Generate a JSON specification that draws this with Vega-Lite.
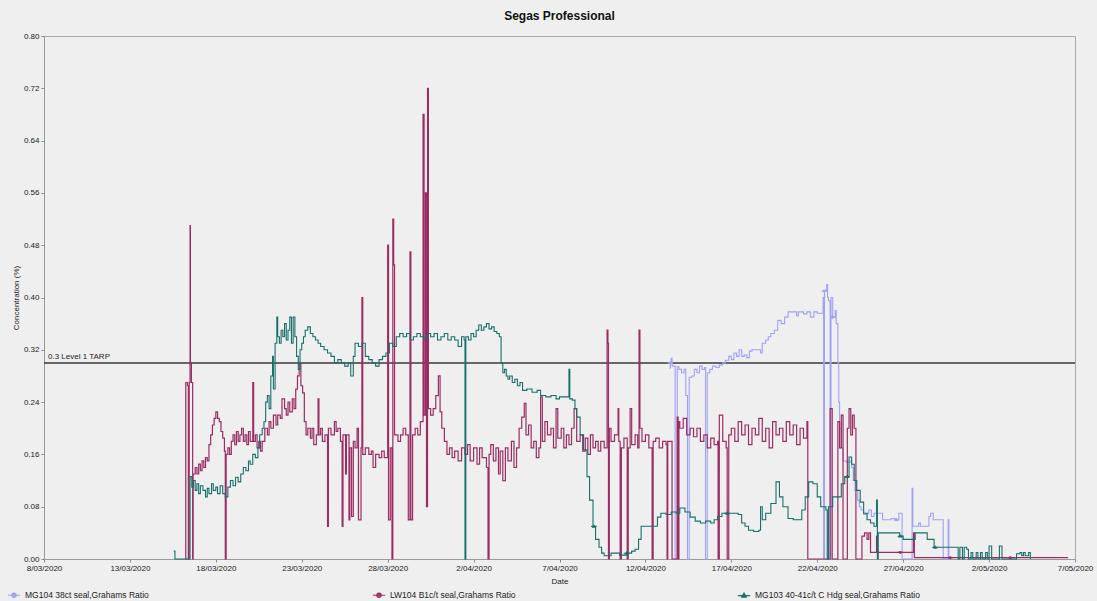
{
 "$schema": "https://vega.github.io/schema/vega-lite/v6.json",
 "width": 1031,
 "height": 523,
 "autosize": {"type": "none"},
 "padding": {"left": 44, "top": 36, "right": 22, "bottom": 42},
 "background": "#efefef",
 "config": {"font": "Liberation Sans", "view": {"stroke": "#a8a8a8", "strokeWidth": 1}},
 "title": {"text": "Segas Professional", "fontSize": 12, "fontWeight": "bold", "color": "#111", "offset": 9, "anchor": "middle", "font": "Liberation Sans"},
 "datasets": {
  "mg103": [
{"date":"2020-03-15T13:12","value":0.012},{"date":"2020-03-15T14:53","value":0},{"date":"2020-03-16T12:00","value":0.126},{"date":"2020-03-16T14:24","value":0.11},{"date":"2020-03-16T16:48","value":0.12},{"date":"2020-03-16T19:12","value":0.105},{"date":"2020-03-16T21:36","value":0.115},{"date":"2020-03-17T00:00","value":0.1},{"date":"2020-03-17T02:24","value":0.112},{"date":"2020-03-17T06:00","value":0.105},{"date":"2020-03-17T09:36","value":0.095},{"date":"2020-03-17T12:00","value":0.108},{"date":"2020-03-17T14:24","value":0.1},{"date":"2020-03-17T18:00","value":0.115},{"date":"2020-03-17T20:24","value":0.105},{"date":"2020-03-18T00:00","value":0.11},{"date":"2020-03-18T02:24","value":0.1},{"date":"2020-03-18T06:00","value":0.112},{"date":"2020-03-18T09:36","value":0.1},{"date":"2020-03-18T13:12","value":0.095},{"date":"2020-03-18T16:48","value":0.11},{"date":"2020-03-18T20:24","value":0.12},{"date":"2020-03-19T00:00","value":0.112},{"date":"2020-03-19T03:36","value":0.125},{"date":"2020-03-19T07:12","value":0.118},{"date":"2020-03-19T10:48","value":0.13},{"date":"2020-03-19T14:24","value":0.14},{"date":"2020-03-19T18:00","value":0.135},{"date":"2020-03-19T21:36","value":0.15},{"date":"2020-03-20T00:00","value":0.145},{"date":"2020-03-20T03:36","value":0.16},{"date":"2020-03-20T07:12","value":0.155},{"date":"2020-03-20T10:48","value":0.17},{"date":"2020-03-20T13:12","value":0.19},{"date":"2020-03-20T16:48","value":0.2},{"date":"2020-03-20T19:12","value":0.21},{"date":"2020-03-20T21:36","value":0.24},{"date":"2020-03-21T00:00","value":0.25},{"date":"2020-03-21T02:24","value":0.23},{"date":"2020-03-21T04:48","value":0.28},{"date":"2020-03-21T07:12","value":0.31},{"date":"2020-03-21T08:24","value":0.26},{"date":"2020-03-21T10:48","value":0.33},{"date":"2020-03-21T13:12","value":0.37},{"date":"2020-03-21T14:24","value":0.34},{"date":"2020-03-21T16:48","value":0.33},{"date":"2020-03-21T19:12","value":0.35},{"date":"2020-03-21T21:36","value":0.34},{"date":"2020-03-22T00:00","value":0.36},{"date":"2020-03-22T02:24","value":0.335},{"date":"2020-03-22T04:48","value":0.35},{"date":"2020-03-22T07:12","value":0.37},{"date":"2020-03-22T09:36","value":0.33},{"date":"2020-03-22T12:00","value":0.37},{"date":"2020-03-22T14:24","value":0.34},{"date":"2020-03-22T16:48","value":0.31},{"date":"2020-03-22T19:12","value":0.29},{"date":"2020-03-22T21:36","value":0.32},{"date":"2020-03-23T00:00","value":0.33},{"date":"2020-03-23T02:24","value":0.34},{"date":"2020-03-23T04:48","value":0.35},{"date":"2020-03-23T08:24","value":0.355},{"date":"2020-03-23T12:00","value":0.345},{"date":"2020-03-23T15:36","value":0.34},{"date":"2020-03-23T19:12","value":0.335},{"date":"2020-03-23T22:48","value":0.33},{"date":"2020-03-24T02:24","value":0.325},{"date":"2020-03-24T07:12","value":0.32},{"date":"2020-03-24T12:00","value":0.315},{"date":"2020-03-24T16:48","value":0.31},{"date":"2020-03-24T21:36","value":0.3},{"date":"2020-03-25T02:24","value":0.305},{"date":"2020-03-25T07:12","value":0.3},{"date":"2020-03-25T12:00","value":0.295},{"date":"2020-03-25T16:48","value":0.3},{"date":"2020-03-25T20:24","value":0.28},{"date":"2020-03-26T00:00","value":0.31},{"date":"2020-03-26T02:24","value":0.33},{"date":"2020-03-26T07:12","value":0.325},{"date":"2020-03-26T12:00","value":0.33},{"date":"2020-03-26T16:48","value":0.31},{"date":"2020-03-26T21:36","value":0.305},{"date":"2020-03-27T02:24","value":0.3},{"date":"2020-03-27T07:12","value":0.295},{"date":"2020-03-27T12:00","value":0.305},{"date":"2020-03-27T16:48","value":0.31},{"date":"2020-03-27T21:36","value":0.315},{"date":"2020-03-28T02:24","value":0.33},{"date":"2020-03-28T07:12","value":0.325},{"date":"2020-03-28T12:00","value":0.34},{"date":"2020-03-28T16:48","value":0.345},{"date":"2020-03-28T21:36","value":0.34},{"date":"2020-03-29T02:24","value":0.345},{"date":"2020-03-29T07:12","value":0.335},{"date":"2020-03-29T12:00","value":0.34},{"date":"2020-03-29T16:48","value":0.345},{"date":"2020-03-29T21:36","value":0.34},{"date":"2020-03-30T02:24","value":0.335},{"date":"2020-03-30T07:12","value":0.345},{"date":"2020-03-30T12:00","value":0.34},{"date":"2020-03-30T16:48","value":0.345},{"date":"2020-03-30T21:36","value":0.335},{"date":"2020-03-31T02:24","value":0.34},{"date":"2020-03-31T07:12","value":0.345},{"date":"2020-03-31T12:00","value":0.335},{"date":"2020-03-31T16:48","value":0.34},{"date":"2020-03-31T21:36","value":0.335},{"date":"2020-04-01T02:24","value":0.325},{"date":"2020-04-01T07:12","value":0.34},{"date":"2020-04-01T10:48","value":0.335},{"date":"2020-04-01T12:00","value":0},{"date":"2020-04-01T13:12","value":0.34},{"date":"2020-04-01T16:48","value":0.335},{"date":"2020-04-01T20:24","value":0.345},{"date":"2020-04-02T00:00","value":0.34},{"date":"2020-04-02T03:36","value":0.35},{"date":"2020-04-02T07:12","value":0.358},{"date":"2020-04-02T10:48","value":0.35},{"date":"2020-04-02T14:24","value":0.355},{"date":"2020-04-02T18:00","value":0.36},{"date":"2020-04-02T21:36","value":0.352},{"date":"2020-04-03T01:12","value":0.355},{"date":"2020-04-03T04:48","value":0.348},{"date":"2020-04-03T08:24","value":0.345},{"date":"2020-04-03T12:00","value":0.34},{"date":"2020-04-03T14:24","value":0.3},{"date":"2020-04-03T16:48","value":0.285},{"date":"2020-04-03T19:12","value":0.29},{"date":"2020-04-03T21:36","value":0.28},{"date":"2020-04-04T00:00","value":0.275},{"date":"2020-04-04T02:24","value":0.28},{"date":"2020-04-04T06:00","value":0.27},{"date":"2020-04-04T09:36","value":0.275},{"date":"2020-04-04T13:12","value":0.265},{"date":"2020-04-04T16:48","value":0.27},{"date":"2020-04-04T20:24","value":0.258},{"date":"2020-04-05T02:24","value":0.26},{"date":"2020-04-05T09:36","value":0.255},{"date":"2020-04-05T16:48","value":0.258},{"date":"2020-04-05T21:36","value":0.25},{"date":"2020-04-06T04:48","value":0.248},{"date":"2020-04-06T12:00","value":0.25},{"date":"2020-04-06T19:12","value":0.245},{"date":"2020-04-07T00:00","value":0.248},{"date":"2020-04-07T12:00","value":0.248},{"date":"2020-04-07T13:12","value":0.29},{"date":"2020-04-07T14:24","value":0.245},{"date":"2020-04-07T18:00","value":0.243},{"date":"2020-04-07T21:36","value":0.23},{"date":"2020-04-08T00:00","value":0.217},{"date":"2020-04-08T04:48","value":0.19},{"date":"2020-04-08T09:36","value":0.167},{"date":"2020-04-08T14:24","value":0.126},{"date":"2020-04-08T18:00","value":0.09},{"date":"2020-04-08T22:48","value":0.05},{"date":"2020-04-09T02:24","value":0.03},{"date":"2020-04-09T07:12","value":0.018},{"date":"2020-04-09T10:48","value":0.009},{"date":"2020-04-09T14:24","value":0.005},{"date":"2020-04-10T00:00","value":0.009},{"date":"2020-04-10T12:00","value":0.006},{"date":"2020-04-11T00:00","value":0.009},{"date":"2020-04-11T04:48","value":0.012},{"date":"2020-04-11T09:36","value":0.015},{"date":"2020-04-11T14:24","value":0.03},{"date":"2020-04-11T18:00","value":0.05},{"date":"2020-04-12T16:48","value":0.064},{"date":"2020-04-12T21:36","value":0.07},{"date":"2020-04-13T04:48","value":0.068},{"date":"2020-04-13T12:00","value":0.072},{"date":"2020-04-13T19:12","value":0.07},{"date":"2020-04-14T00:00","value":0.078},{"date":"2020-04-14T07:12","value":0.072},{"date":"2020-04-14T14:24","value":0.064},{"date":"2020-04-14T21:36","value":0.058},{"date":"2020-04-15T04:48","value":0.055},{"date":"2020-04-15T12:00","value":0.058},{"date":"2020-04-15T19:12","value":0.055},{"date":"2020-04-16T00:00","value":0.06},{"date":"2020-04-16T04:48","value":0.065},{"date":"2020-04-16T10:48","value":0.07},{"date":"2020-04-17T09:36","value":0.068},{"date":"2020-04-17T14:24","value":0.055},{"date":"2020-04-17T19:12","value":0.05},{"date":"2020-04-18T00:00","value":0.044},{"date":"2020-04-18T07:12","value":0.042},{"date":"2020-04-18T14:24","value":0.044},{"date":"2020-04-18T16:48","value":0.08},{"date":"2020-04-18T19:12","value":0.06},{"date":"2020-04-19T00:00","value":0.07},{"date":"2020-04-19T07:12","value":0.085},{"date":"2020-04-19T14:24","value":0.118},{"date":"2020-04-19T19:12","value":0.095},{"date":"2020-04-20T00:00","value":0.08},{"date":"2020-04-20T07:12","value":0.062},{"date":"2020-04-20T14:24","value":0.06},{"date":"2020-04-21T02:24","value":0.075},{"date":"2020-04-21T07:12","value":0.095},{"date":"2020-04-21T12:00","value":0.118},{"date":"2020-04-21T18:00","value":0.115},{"date":"2020-04-22T00:00","value":0.095},{"date":"2020-04-22T04:48","value":0.08},{"date":"2020-04-22T12:00","value":0.075},{"date":"2020-04-22T13:55","value":0},{"date":"2020-04-22T15:36","value":0.08},{"date":"2020-04-22T21:36","value":0.095},{"date":"2020-04-23T09:36","value":0.115},{"date":"2020-04-23T14:24","value":0.126},{"date":"2020-04-23T20:24","value":0.156},{"date":"2020-04-24T00:00","value":0.145},{"date":"2020-04-24T03:36","value":0.12},{"date":"2020-04-24T07:12","value":0.105},{"date":"2020-04-24T12:00","value":0.087},{"date":"2020-04-24T16:48","value":0.07},{"date":"2020-04-24T21:36","value":0.06},{"date":"2020-04-25T02:24","value":0.055},{"date":"2020-04-25T07:12","value":0.05},{"date":"2020-04-25T10:48","value":0.09},{"date":"2020-04-25T12:00","value":0},{"date":"2020-04-25T13:12","value":0.04},{"date":"2020-04-26T19:12","value":0.035},{"date":"2020-04-27T00:00","value":0.03},{"date":"2020-04-27T16:48","value":0.04},{"date":"2020-04-28T09:36","value":0.03},{"date":"2020-04-28T19:12","value":0.018},{"date":"2020-04-30T04:48","value":0},{"date":"2020-04-30T07:12","value":0.018},{"date":"2020-04-30T10:48","value":0},{"date":"2020-04-30T13:12","value":0.018},{"date":"2020-04-30T16:48","value":0.015},{"date":"2020-04-30T19:12","value":0},{"date":"2020-04-30T22:48","value":0.01},{"date":"2020-05-01T01:12","value":0},{"date":"2020-05-01T06:00","value":0.01},{"date":"2020-05-01T08:24","value":0},{"date":"2020-05-01T12:00","value":0.01},{"date":"2020-05-01T14:24","value":0},{"date":"2020-05-01T19:12","value":0.01},{"date":"2020-05-01T21:36","value":0},{"date":"2020-05-02T00:00","value":0.02},{"date":"2020-05-02T03:36","value":0},{"date":"2020-05-02T14:24","value":0.02},{"date":"2020-05-02T18:00","value":0},{"date":"2020-05-03T14:24","value":0.008},{"date":"2020-05-03T19:12","value":0.01},{"date":"2020-05-03T21:36","value":0.005},{"date":"2020-05-04T00:00","value":0.01},{"date":"2020-05-04T02:24","value":0.005},{"date":"2020-05-04T07:12","value":0.01},{"date":"2020-05-04T09:36","value":0}
  ],
  "lw104": [
{"date":"2020-03-16T04:48","value":0},{"date":"2020-03-16T06:00","value":0.27},{"date":"2020-03-16T08:24","value":0.265},{"date":"2020-03-16T09:36","value":0},{"date":"2020-03-16T10:48","value":0.27},{"date":"2020-03-16T12:00","value":0.51},{"date":"2020-03-16T12:29","value":0.3},{"date":"2020-03-16T13:55","value":0.27},{"date":"2020-03-16T15:36","value":0},{"date":"2020-03-16T16:19","value":0.13},{"date":"2020-03-16T19:12","value":0.14},{"date":"2020-03-16T21:36","value":0.13},{"date":"2020-03-17T00:00","value":0.145},{"date":"2020-03-17T02:24","value":0.135},{"date":"2020-03-17T04:48","value":0.15},{"date":"2020-03-17T07:12","value":0.14},{"date":"2020-03-17T09:36","value":0.155},{"date":"2020-03-17T12:00","value":0.15},{"date":"2020-03-17T14:24","value":0.175},{"date":"2020-03-17T16:48","value":0.19},{"date":"2020-03-17T19:12","value":0.205},{"date":"2020-03-17T21:36","value":0.215},{"date":"2020-03-18T00:00","value":0.225},{"date":"2020-03-18T02:24","value":0.215},{"date":"2020-03-18T04:48","value":0.21},{"date":"2020-03-18T07:12","value":0.195},{"date":"2020-03-18T09:36","value":0.185},{"date":"2020-03-18T12:00","value":0.165},{"date":"2020-03-18T13:12","value":0},{"date":"2020-03-18T14:24","value":0.16},{"date":"2020-03-18T16:48","value":0.17},{"date":"2020-03-18T19:12","value":0.16},{"date":"2020-03-18T21:36","value":0.18},{"date":"2020-03-19T00:00","value":0.19},{"date":"2020-03-19T02:24","value":0.175},{"date":"2020-03-19T04:48","value":0.195},{"date":"2020-03-19T07:12","value":0.18},{"date":"2020-03-19T09:36","value":0.19},{"date":"2020-03-19T12:00","value":0.2},{"date":"2020-03-19T14:24","value":0.18},{"date":"2020-03-19T16:48","value":0.19},{"date":"2020-03-19T19:12","value":0.175},{"date":"2020-03-19T21:36","value":0.195},{"date":"2020-03-20T00:00","value":0.18},{"date":"2020-03-20T03:36","value":0.27},{"date":"2020-03-20T04:48","value":0.18},{"date":"2020-03-20T07:12","value":0.19},{"date":"2020-03-20T09:36","value":0.17},{"date":"2020-03-20T12:00","value":0.18},{"date":"2020-03-20T14:24","value":0.165},{"date":"2020-03-20T16:48","value":0.18},{"date":"2020-03-20T20:24","value":0.2},{"date":"2020-03-21T00:00","value":0.19},{"date":"2020-03-21T02:24","value":0.21},{"date":"2020-03-21T04:48","value":0.2},{"date":"2020-03-21T08:24","value":0.22},{"date":"2020-03-21T12:00","value":0.205},{"date":"2020-03-21T14:24","value":0.22},{"date":"2020-03-21T18:00","value":0.215},{"date":"2020-03-21T20:24","value":0.245},{"date":"2020-03-22T00:00","value":0.23},{"date":"2020-03-22T02:24","value":0.22},{"date":"2020-03-22T04:48","value":0.24},{"date":"2020-03-22T07:12","value":0.225},{"date":"2020-03-22T10:48","value":0.245},{"date":"2020-03-22T13:12","value":0.23},{"date":"2020-03-22T15:36","value":0.26},{"date":"2020-03-22T18:00","value":0.28},{"date":"2020-03-22T20:24","value":0.3},{"date":"2020-03-22T22:48","value":0.265},{"date":"2020-03-23T01:12","value":0.254},{"date":"2020-03-23T03:36","value":0.21},{"date":"2020-03-23T06:00","value":0.19},{"date":"2020-03-23T08:24","value":0.2},{"date":"2020-03-23T12:00","value":0.185},{"date":"2020-03-23T14:24","value":0.2},{"date":"2020-03-23T16:48","value":0.175},{"date":"2020-03-23T20:24","value":0.19},{"date":"2020-03-23T22:48","value":0.245},{"date":"2020-03-24T00:00","value":0.19},{"date":"2020-03-24T02:24","value":0.2},{"date":"2020-03-24T04:48","value":0.18},{"date":"2020-03-24T08:24","value":0.19},{"date":"2020-03-24T12:00","value":0.05},{"date":"2020-03-24T13:12","value":0.2},{"date":"2020-03-24T16:48","value":0.19},{"date":"2020-03-24T21:36","value":0.21},{"date":"2020-03-25T00:00","value":0.195},{"date":"2020-03-25T02:24","value":0.2},{"date":"2020-03-25T06:00","value":0.18},{"date":"2020-03-25T08:24","value":0.05},{"date":"2020-03-25T09:36","value":0.19},{"date":"2020-03-25T13:12","value":0.13},{"date":"2020-03-25T14:24","value":0.19},{"date":"2020-03-25T18:00","value":0.06},{"date":"2020-03-25T19:12","value":0.17},{"date":"2020-03-25T21:36","value":0.065},{"date":"2020-03-26T00:00","value":0.18},{"date":"2020-03-26T02:24","value":0.17},{"date":"2020-03-26T05:17","value":0.2},{"date":"2020-03-26T07:12","value":0.06},{"date":"2020-03-26T10:48","value":0.17},{"date":"2020-03-26T12:00","value":0.4},{"date":"2020-03-26T13:12","value":0.16},{"date":"2020-03-26T16:48","value":0.17},{"date":"2020-03-26T21:36","value":0.16},{"date":"2020-03-27T01:12","value":0.165},{"date":"2020-03-27T03:36","value":0.14},{"date":"2020-03-27T07:12","value":0.16},{"date":"2020-03-27T12:00","value":0.155},{"date":"2020-03-27T15:36","value":0.165},{"date":"2020-03-27T19:12","value":0.155},{"date":"2020-03-28T00:00","value":0.48},{"date":"2020-03-28T01:12","value":0.06},{"date":"2020-03-28T03:36","value":0.17},{"date":"2020-03-28T06:00","value":0},{"date":"2020-03-28T07:12","value":0.52},{"date":"2020-03-28T08:24","value":0.45},{"date":"2020-03-28T09:36","value":0.19},{"date":"2020-03-28T14:24","value":0.18},{"date":"2020-03-28T18:00","value":0.19},{"date":"2020-03-28T21:36","value":0.2},{"date":"2020-03-29T01:12","value":0.19},{"date":"2020-03-29T04:48","value":0.06},{"date":"2020-03-29T07:12","value":0.47},{"date":"2020-03-29T08:24","value":0.06},{"date":"2020-03-29T10:48","value":0.19},{"date":"2020-03-29T14:24","value":0.2},{"date":"2020-03-29T18:00","value":0.19},{"date":"2020-03-29T21:36","value":0.21},{"date":"2020-03-30T01:26","value":0.68},{"date":"2020-03-30T02:53","value":0.22},{"date":"2020-03-30T04:48","value":0.56},{"date":"2020-03-30T06:14","value":0.08},{"date":"2020-03-30T07:41","value":0.72},{"date":"2020-03-30T08:53","value":0.23},{"date":"2020-03-30T12:00","value":0.22},{"date":"2020-03-30T15:36","value":0.23},{"date":"2020-03-30T19:12","value":0.25},{"date":"2020-03-30T22:48","value":0.28},{"date":"2020-03-31T01:12","value":0.225},{"date":"2020-03-31T03:36","value":0.2},{"date":"2020-03-31T07:12","value":0.18},{"date":"2020-03-31T10:48","value":0.16},{"date":"2020-03-31T14:24","value":0.17},{"date":"2020-03-31T18:00","value":0.155},{"date":"2020-03-31T21:36","value":0.165},{"date":"2020-04-01T02:24","value":0.15},{"date":"2020-04-01T07:12","value":0.17},{"date":"2020-04-01T12:00","value":0.16},{"date":"2020-04-01T15:36","value":0.175},{"date":"2020-04-01T19:12","value":0.15},{"date":"2020-04-02T00:00","value":0.17},{"date":"2020-04-02T04:48","value":0.145},{"date":"2020-04-02T08:24","value":0.17},{"date":"2020-04-02T12:00","value":0.155},{"date":"2020-04-02T18:00","value":0.14},{"date":"2020-04-02T20:10","value":0},{"date":"2020-04-02T21:36","value":0.16},{"date":"2020-04-03T00:00","value":0.175},{"date":"2020-04-03T03:36","value":0.15},{"date":"2020-04-03T07:12","value":0.17},{"date":"2020-04-03T10:48","value":0.13},{"date":"2020-04-03T13:12","value":0.165},{"date":"2020-04-03T16:48","value":0.12},{"date":"2020-04-03T20:24","value":0.17},{"date":"2020-04-04T00:00","value":0.15},{"date":"2020-04-04T04:48","value":0.18},{"date":"2020-04-04T08:24","value":0.14},{"date":"2020-04-04T12:00","value":0.17},{"date":"2020-04-04T15:36","value":0.2},{"date":"2020-04-04T19:12","value":0.217},{"date":"2020-04-04T22:48","value":0.238},{"date":"2020-04-05T01:12","value":0.19},{"date":"2020-04-05T04:48","value":0.205},{"date":"2020-04-05T08:24","value":0.17},{"date":"2020-04-05T12:00","value":0.18},{"date":"2020-04-05T15:36","value":0.155},{"date":"2020-04-05T19:12","value":0.17},{"date":"2020-04-05T21:36","value":0.248},{"date":"2020-04-06T00:00","value":0.18},{"date":"2020-04-06T03:36","value":0.21},{"date":"2020-04-06T07:12","value":0.19},{"date":"2020-04-06T12:00","value":0.2},{"date":"2020-04-06T15:36","value":0.17},{"date":"2020-04-06T19:12","value":0.23},{"date":"2020-04-06T21:36","value":0.185},{"date":"2020-04-07T02:24","value":0.2},{"date":"2020-04-07T06:00","value":0.17},{"date":"2020-04-07T09:36","value":0.19},{"date":"2020-04-07T13:12","value":0.175},{"date":"2020-04-07T16:48","value":0.2},{"date":"2020-04-07T20:24","value":0.23},{"date":"2020-04-08T00:00","value":0.18},{"date":"2020-04-08T04:48","value":0.19},{"date":"2020-04-08T08:24","value":0.165},{"date":"2020-04-08T12:00","value":0.185},{"date":"2020-04-08T15:36","value":0.16},{"date":"2020-04-08T19:12","value":0.19},{"date":"2020-04-08T22:48","value":0.17},{"date":"2020-04-09T02:24","value":0.18},{"date":"2020-04-09T06:00","value":0.165},{"date":"2020-04-09T09:36","value":0.18},{"date":"2020-04-09T14:24","value":0.17},{"date":"2020-04-09T18:29","value":0.35},{"date":"2020-04-09T19:41","value":0.33},{"date":"2020-04-09T20:24","value":0},{"date":"2020-04-09T21:36","value":0.2},{"date":"2020-04-10T00:00","value":0.18},{"date":"2020-04-10T04:48","value":0.19},{"date":"2020-04-10T09:50","value":0.23},{"date":"2020-04-10T10:48","value":0.18},{"date":"2020-04-10T12:43","value":0},{"date":"2020-04-10T14:24","value":0.17},{"date":"2020-04-10T18:00","value":0.185},{"date":"2020-04-10T22:34","value":0},{"date":"2020-04-11T00:00","value":0.17},{"date":"2020-04-11T02:38","value":0.23},{"date":"2020-04-11T04:48","value":0.175},{"date":"2020-04-11T09:36","value":0.19},{"date":"2020-04-11T13:12","value":0.17},{"date":"2020-04-11T15:07","value":0.35},{"date":"2020-04-11T16:19","value":0.2},{"date":"2020-04-11T19:12","value":0.18},{"date":"2020-04-12T00:00","value":0.19},{"date":"2020-04-12T04:48","value":0.17},{"date":"2020-04-12T09:22","value":0},{"date":"2020-04-12T10:48","value":0.18},{"date":"2020-04-12T14:24","value":0.185},{"date":"2020-04-12T19:12","value":0.17},{"date":"2020-04-13T00:00","value":0.18},{"date":"2020-04-13T04:48","value":0.175},{"date":"2020-04-13T06:14","value":0},{"date":"2020-04-13T07:12","value":0.18},{"date":"2020-04-13T13:12","value":0},{"date":"2020-04-13T20:24","value":0.217},{"date":"2020-04-13T21:36","value":0},{"date":"2020-04-13T22:48","value":0.21},{"date":"2020-04-14T00:00","value":0.2},{"date":"2020-04-14T04:48","value":0.215},{"date":"2020-04-14T09:36","value":0.19},{"date":"2020-04-14T14:24","value":0.2},{"date":"2020-04-14T19:12","value":0.187},{"date":"2020-04-15T00:00","value":0.2},{"date":"2020-04-15T04:48","value":0.18},{"date":"2020-04-15T09:36","value":0.19},{"date":"2020-04-15T14:24","value":0.17},{"date":"2020-04-15T19:12","value":0.185},{"date":"2020-04-16T00:00","value":0.175},{"date":"2020-04-16T04:48","value":0.18},{"date":"2020-04-16T05:31","value":0},{"date":"2020-04-16T07:12","value":0.22},{"date":"2020-04-16T12:00","value":0.18},{"date":"2020-04-16T16:48","value":0.17},{"date":"2020-04-16T18:14","value":0},{"date":"2020-04-16T20:24","value":0.19},{"date":"2020-04-17T00:00","value":0.2},{"date":"2020-04-17T04:48","value":0.18},{"date":"2020-04-17T09:36","value":0.21},{"date":"2020-04-17T14:24","value":0.19},{"date":"2020-04-17T19:12","value":0.205},{"date":"2020-04-18T00:00","value":0.175},{"date":"2020-04-18T04:48","value":0.2},{"date":"2020-04-18T09:36","value":0.19},{"date":"2020-04-18T14:24","value":0.215},{"date":"2020-04-18T19:12","value":0.18},{"date":"2020-04-19T00:00","value":0.2},{"date":"2020-04-19T04:48","value":0.17},{"date":"2020-04-19T09:36","value":0.21},{"date":"2020-04-19T14:24","value":0.19},{"date":"2020-04-19T19:12","value":0.2},{"date":"2020-04-20T00:00","value":0.18},{"date":"2020-04-20T04:48","value":0.21},{"date":"2020-04-20T09:36","value":0.19},{"date":"2020-04-20T14:24","value":0.205},{"date":"2020-04-20T19:12","value":0.175},{"date":"2020-04-21T00:00","value":0.2},{"date":"2020-04-21T04:48","value":0.185},{"date":"2020-04-21T09:36","value":0.21},{"date":"2020-04-21T10:48","value":0},{"date":"2020-04-22T16:48","value":0},{"date":"2020-04-22T18:00","value":0.23},{"date":"2020-04-22T20:53","value":0},{"date":"2020-04-23T04:48","value":0.21},{"date":"2020-04-23T07:12","value":0.17},{"date":"2020-04-23T09:36","value":0.22},{"date":"2020-04-23T12:00","value":0},{"date":"2020-04-23T18:00","value":0.2},{"date":"2020-04-23T20:24","value":0.23},{"date":"2020-04-23T22:48","value":0.19},{"date":"2020-04-24T01:12","value":0.22},{"date":"2020-04-24T03:36","value":0.2},{"date":"2020-04-24T06:00","value":0},{"date":"2020-04-24T14:24","value":0.035},{"date":"2020-04-24T18:00","value":0.04},{"date":"2020-04-24T21:36","value":0.03},{"date":"2020-04-25T00:00","value":0.04},{"date":"2020-04-25T02:24","value":0.01},{"date":"2020-04-25T10:48","value":0.035},{"date":"2020-04-25T12:00","value":0.01},{"date":"2020-04-27T13:12","value":0.01},{"date":"2020-04-27T14:24","value":0.04},{"date":"2020-04-27T15:36","value":0.002},{"date":"2020-05-06T14:24","value":0.002}
  ],
  "mg104": [
{"date":"2020-04-13T09:36","value":0.292},{"date":"2020-04-13T10:48","value":0.3},{"date":"2020-04-13T12:00","value":0.307},{"date":"2020-04-13T13:12","value":0.295},{"date":"2020-04-13T17:31","value":0},{"date":"2020-04-13T20:24","value":0.294},{"date":"2020-04-13T22:48","value":0.29},{"date":"2020-04-14T02:24","value":0.285},{"date":"2020-04-14T06:00","value":0.29},{"date":"2020-04-14T08:24","value":0.25},{"date":"2020-04-14T10:48","value":0},{"date":"2020-04-14T13:12","value":0.278},{"date":"2020-04-14T16:48","value":0.28},{"date":"2020-04-14T20:24","value":0.29},{"date":"2020-04-15T00:00","value":0.285},{"date":"2020-04-15T03:36","value":0.295},{"date":"2020-04-15T07:12","value":0.29},{"date":"2020-04-15T10:48","value":0.293},{"date":"2020-04-15T12:00","value":0},{"date":"2020-04-15T14:24","value":0.285},{"date":"2020-04-15T18:00","value":0.29},{"date":"2020-04-15T21:36","value":0.295},{"date":"2020-04-16T02:24","value":0.293},{"date":"2020-04-16T07:12","value":0.297},{"date":"2020-04-16T12:00","value":0.3},{"date":"2020-04-16T15:36","value":0.304},{"date":"2020-04-16T20:24","value":0.31},{"date":"2020-04-17T00:00","value":0.305},{"date":"2020-04-17T03:36","value":0.315},{"date":"2020-04-17T07:12","value":0.31},{"date":"2020-04-17T10:48","value":0.32},{"date":"2020-04-17T14:24","value":0.31},{"date":"2020-04-17T18:00","value":0.312},{"date":"2020-04-17T21:36","value":0.308},{"date":"2020-04-18T01:12","value":0.318},{"date":"2020-04-18T04:48","value":0.32},{"date":"2020-04-18T16:48","value":0.315},{"date":"2020-04-18T19:12","value":0.33},{"date":"2020-04-19T00:00","value":0.335},{"date":"2020-04-19T03:36","value":0.34},{"date":"2020-04-19T07:12","value":0.345},{"date":"2020-04-19T12:00","value":0.35},{"date":"2020-04-19T16:48","value":0.365},{"date":"2020-04-19T21:36","value":0.36},{"date":"2020-04-20T02:24","value":0.37},{"date":"2020-04-20T07:12","value":0.378},{"date":"2020-04-20T19:12","value":0.372},{"date":"2020-04-20T21:36","value":0.378},{"date":"2020-04-21T04:48","value":0.375},{"date":"2020-04-21T09:36","value":0.378},{"date":"2020-04-21T14:24","value":0.37},{"date":"2020-04-21T19:12","value":0.378},{"date":"2020-04-22T00:00","value":0.376},{"date":"2020-04-22T08:10","value":0.4},{"date":"2020-04-22T08:53","value":0},{"date":"2020-04-22T10:05","value":0.41},{"date":"2020-04-22T13:12","value":0.42},{"date":"2020-04-22T14:24","value":0.4},{"date":"2020-04-22T15:36","value":0.395},{"date":"2020-04-22T18:00","value":0},{"date":"2020-04-22T19:12","value":0.4},{"date":"2020-04-22T21:36","value":0.37},{"date":"2020-04-23T01:12","value":0.38},{"date":"2020-04-23T02:24","value":0.36},{"date":"2020-04-23T04:48","value":0.3},{"date":"2020-04-23T06:00","value":0.24},{"date":"2020-04-23T07:12","value":0.2},{"date":"2020-04-23T09:36","value":0.17},{"date":"2020-04-23T12:00","value":0.15},{"date":"2020-04-23T16:48","value":0.148},{"date":"2020-04-23T21:36","value":0.15},{"date":"2020-04-24T00:00","value":0.14},{"date":"2020-04-24T02:24","value":0.12},{"date":"2020-04-24T04:48","value":0.105},{"date":"2020-04-24T08:24","value":0.09},{"date":"2020-04-24T10:48","value":0.08},{"date":"2020-04-24T13:12","value":0.075},{"date":"2020-04-24T16:48","value":0.068},{"date":"2020-04-24T21:36","value":0.07},{"date":"2020-04-25T00:00","value":0.075},{"date":"2020-04-25T03:36","value":0.065},{"date":"2020-04-25T07:12","value":0.07},{"date":"2020-04-25T19:12","value":0.06},{"date":"2020-04-26T07:12","value":0.062},{"date":"2020-04-26T14:24","value":0.06},{"date":"2020-04-26T18:00","value":0.07},{"date":"2020-04-26T22:34","value":0},{"date":"2020-04-27T12:29","value":0.108},{"date":"2020-04-27T13:26","value":0.05},{"date":"2020-04-27T21:36","value":0.055},{"date":"2020-04-28T00:00","value":0.05},{"date":"2020-04-28T12:00","value":0.065},{"date":"2020-04-28T14:24","value":0.07},{"date":"2020-04-28T18:00","value":0.06},{"date":"2020-04-29T07:55","value":0},{"date":"2020-04-29T14:53","value":0.06},{"date":"2020-04-29T15:50","value":0},{"date":"2020-04-29T17:46","value":0}
  ],
  "markers": [
{"series":"MG104 38ct seal,Grahams Ratio","date":"2020-04-13T10:48","value":0.3},
{"series":"MG104 38ct seal,Grahams Ratio","date":"2020-04-22T10:05","value":0.41},
{"series":"MG104 38ct seal,Grahams Ratio","date":"2020-04-22T21:36","value":0.37},
{"series":"MG104 38ct seal,Grahams Ratio","date":"2020-04-26T14:24","value":0.06},
{"series":"LW104 B1c/t seal,Grahams Ratio","date":"2020-04-26T19:55","value":0.01},
{"series":"LW104 B1c/t seal,Grahams Ratio","date":"2020-04-29T17:46","value":0.002},
{"series":"LW104 B1c/t seal,Grahams Ratio","date":"2020-05-03T05:31","value":0.002},
{"series":"MG103 40-41c/t C Hdg seal,Grahams Ratio","date":"2020-04-09T00:00","value":0.05},
{"series":"MG103 40-41c/t C Hdg seal,Grahams Ratio","date":"2020-04-10T21:36","value":0.009},
{"series":"MG103 40-41c/t C Hdg seal,Grahams Ratio","date":"2020-04-16T18:14","value":0.07},
{"series":"MG103 40-41c/t C Hdg seal,Grahams Ratio","date":"2020-04-23T17:46","value":0.126},
{"series":"MG103 40-41c/t C Hdg seal,Grahams Ratio","date":"2020-04-26T19:55","value":0.035},
{"series":"MG103 40-41c/t C Hdg seal,Grahams Ratio","date":"2020-04-28T20:38","value":0.018}
  ]
 },
 "layer": [
  {
   "data": {"values": [{"value": 0.3}]},
   "mark": {"type": "rule", "color": "#3a3a3a", "strokeWidth": 1.5},
   "encoding": {
    "y": {"field": "value", "type": "quantitative", "scale": {"domain": [0, 0.8], "nice": false, "zero": true},
     "axis": {"values": [0,0.04,0.08,0.12,0.16,0.2,0.24,0.28,0.32,0.36,0.4,0.44,0.48,0.52,0.56,0.6,0.64,0.68,0.72,0.76,0.8],
      "labelExpr": "round(datum.value*100) % 8 == 0 ? format(datum.value, '.2f') : ''",
      "labelFontSize": 8, "labelColor": "#222", "tickColor": "#8a8a8a", "tickSize": 3, "domainColor": "#9a9a9a",
      "labelPadding": 2, "grid": false, "title": "Concentration (%)", "titleFontSize": 8, "titleFontWeight": "normal", "titleColor": "#222", "titlePadding": 3}}
   }
  },
  {
   "data": {"values": [{"date": "2020-03-08T00:00", "value": 0.3, "label": "0.3 Level 1 TARP"}]},
   "mark": {"type": "text", "align": "left", "baseline": "bottom", "dx": 4, "dy": -2, "fontSize": 8, "color": "#222"},
   "encoding": {
    "x": {"field": "date", "type": "temporal"},
    "y": {"field": "value", "type": "quantitative"},
    "text": {"field": "label"}
   }
  },
  {
   "data": {"name": "mg104"},
   "mark": {"type": "line", "interpolate": "step-after", "strokeWidth": 1.1},
   "encoding": {
    "x": {"field": "date", "type": "temporal",
     "scale": {"domain": [{"year":2020,"month":3,"date":8},{"year":2020,"month":5,"date":7}], "nice": false},
     "axis": {"values": [{"year":2020,"month":3,"date":8},{"year":2020,"month":3,"date":13},{"year":2020,"month":3,"date":18},{"year":2020,"month":3,"date":23},{"year":2020,"month":3,"date":28},{"year":2020,"month":4,"date":2},{"year":2020,"month":4,"date":7},{"year":2020,"month":4,"date":12},{"year":2020,"month":4,"date":17},{"year":2020,"month":4,"date":22},{"year":2020,"month":4,"date":27},{"year":2020,"month":5,"date":2},{"year":2020,"month":5,"date":7}],
      "format": "%-d/%m/%Y", "labelFontSize": 8, "labelColor": "#222", "tickColor": "#8a8a8a", "tickSize": 3, "domainColor": "#9a9a9a",
      "labelPadding": 2, "labelFlush": false, "labelOverlap": false, "labelBound": false, "grid": false,
      "title": "Date", "titleFontSize": 8, "titleFontWeight": "normal", "titleColor": "#222", "titlePadding": 5}},
    "y": {"field": "value", "type": "quantitative"},
    "color": {"datum": "MG104 38ct seal,Grahams Ratio", "type": "nominal",
     "scale": {"domain": ["MG104 38ct seal,Grahams Ratio", "LW104 B1c/t seal,Grahams Ratio", "MG103 40-41c/t C Hdg seal,Grahams Ratio"], "range": ["#a0a0f8", "#9b2d64", "#17706a"]}}
   }
  },
  {
   "data": {"name": "lw104"},
   "mark": {"type": "line", "interpolate": "step-after", "strokeWidth": 1.2},
   "encoding": {
    "x": {"field": "date", "type": "temporal"},
    "y": {"field": "value", "type": "quantitative"},
    "color": {"datum": "LW104 B1c/t seal,Grahams Ratio", "type": "nominal"}
   }
  },
  {
   "data": {"name": "mg103"},
   "mark": {"type": "line", "interpolate": "step-after", "strokeWidth": 1.1},
   "encoding": {
    "x": {"field": "date", "type": "temporal"},
    "y": {"field": "value", "type": "quantitative"},
    "color": {"datum": "MG103 40-41c/t C Hdg seal,Grahams Ratio", "type": "nominal"}
   }
  },
  {
   "data": {"name": "markers"},
   "mark": {"type": "point", "filled": false, "size": 30, "strokeWidth": 1.2, "opacity": 1},
   "encoding": {
    "x": {"field": "date", "type": "temporal"},
    "y": {"field": "value", "type": "quantitative"},
    "color": {"field": "series", "type": "nominal",
     "legend": {"orient": "none", "legendX": -37, "legendY": 552, "direction": "horizontal", "columns": 3, "gridAlign": "all", "columnPadding": 180, "title": null, "labelFontSize": 8.5, "labelColor": "#222", "symbolSize": 150, "symbolStrokeWidth": 1.2, "padding": 0, "labelOffset": 4, "labelLimit": 400}},
    "shape": {"field": "series", "type": "nominal",
     "scale": {"domain": ["MG104 38ct seal,Grahams Ratio", "LW104 B1c/t seal,Grahams Ratio", "MG103 40-41c/t C Hdg seal,Grahams Ratio"],
      "range": ["M-1,0H-0.35M0.35,0H1M-0.35,0A0.35,0.35 0 1,1 0.35,0A0.35,0.35 0 1,1 -0.35,0ZM-0.15,0A0.15,0.15 0 1,1 0.15,0A0.15,0.15 0 1,1 -0.15,0Z",
                "M-1,0H-0.35M0.35,0H1M-0.35,0A0.35,0.35 0 1,1 0.35,0A0.35,0.35 0 1,1 -0.35,0ZM-0.15,0A0.15,0.15 0 1,1 0.15,0A0.15,0.15 0 1,1 -0.15,0Z",
                "M-1,0.05H1M0,-0.35L0.38,0.3L-0.38,0.3ZM0,-0.12L0.15,0.15L-0.15,0.15Z"]},
     "legend": {"orient": "none", "legendX": -37, "legendY": 552, "direction": "horizontal", "columns": 3, "gridAlign": "all", "columnPadding": 180, "title": null, "labelFontSize": 8.5, "labelColor": "#222", "symbolSize": 150, "symbolStrokeWidth": 1.2, "padding": 0, "labelOffset": 4, "labelLimit": 400}}
   }
  }
 ]
}
